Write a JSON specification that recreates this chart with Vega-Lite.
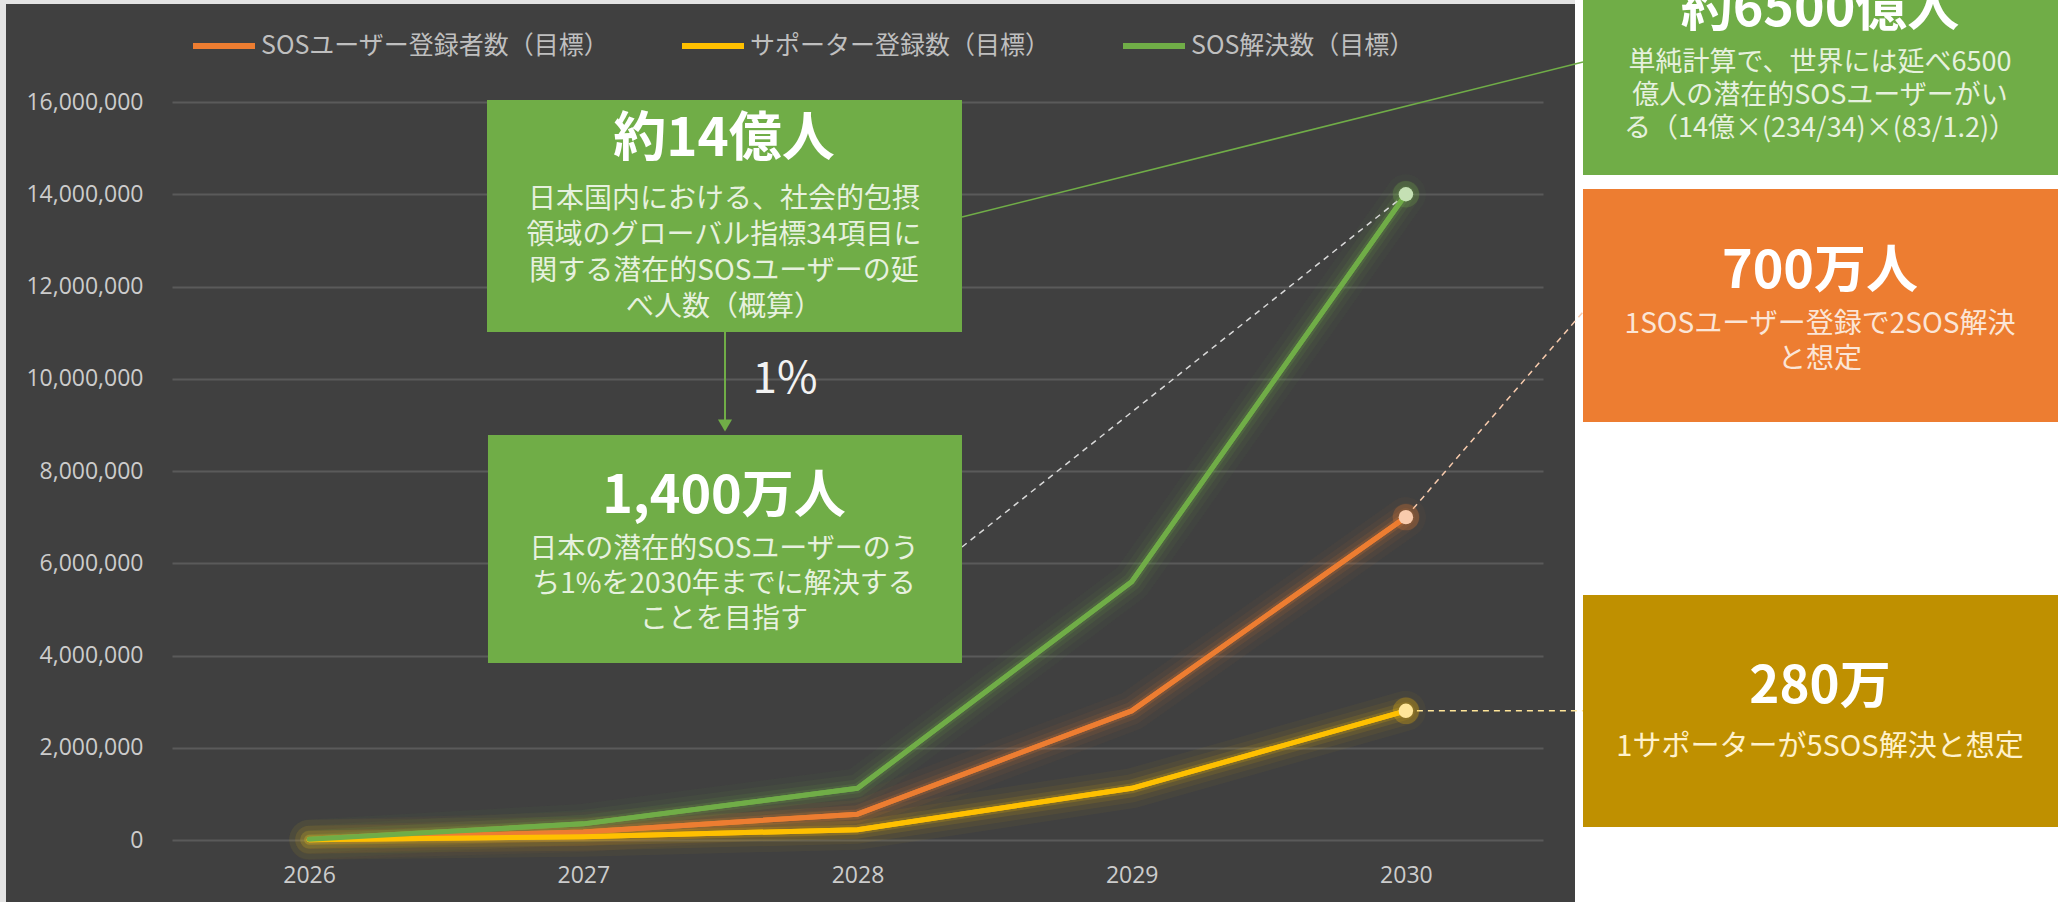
{
  "$schema": "https://vega.github.io/schema/vega-lite/v6.json",
  "width": 1371,
  "height": 738,
  "autosize": {"type": "none"},
  "padding": {"left": 172, "top": 102, "right": 522, "bottom": 62},
  "background": "#404040",
  "config": {
    "view": {"stroke": null},
    "font": "Noto Sans CJK JP",
    "axis": {"titleOpacity": 0},
    "legend": {
      "orient": "none",
      "legendX": 18,
      "legendY": -90,
      "direction": "horizontal",
      "symbolType": "stroke",
      "symbolSize": 3844,
      "symbolStrokeWidth": 6,
      "symbolOpacity": 1,
      "labelFont": "Noto Sans CJK JP",
      "labelFontSize": 25,
      "labelColor": "#bfbfbf",
      "labelLimit": 1000,
      "labelOffset": 3,
      "columnPadding": 60
    }
  },
  "datasets": {
    "series": [
      {"year": 2026, "series": "SOSユーザー登録者数（目標）", "value": 7000},
      {"year": 2027, "series": "SOSユーザー登録者数（目標）", "value": 175000},
      {"year": 2028, "series": "SOSユーザー登録者数（目標）", "value": 560000},
      {"year": 2029, "series": "SOSユーザー登録者数（目標）", "value": 2800000},
      {"year": 2030, "series": "SOSユーザー登録者数（目標）", "value": 7000000},
      {"year": 2026, "series": "サポーター登録数（目標）", "value": 2800},
      {"year": 2027, "series": "サポーター登録数（目標）", "value": 70000},
      {"year": 2028, "series": "サポーター登録数（目標）", "value": 224000},
      {"year": 2029, "series": "サポーター登録数（目標）", "value": 1120000},
      {"year": 2030, "series": "サポーター登録数（目標）", "value": 2800000},
      {"year": 2026, "series": "SOS解決数（目標）", "value": 14000},
      {"year": 2027, "series": "SOS解決数（目標）", "value": 350000},
      {"year": 2028, "series": "SOS解決数（目標）", "value": 1120000},
      {"year": 2029, "series": "SOS解決数（目標）", "value": 5600000},
      {"year": 2030, "series": "SOS解決数（目標）", "value": 14000000}
    ]
  },
  "layer": [
    {
      "data": {"name": "series"},
      "mark": {"type": "line", "strokeWidth": 5, "strokeJoin": "round", "strokeCap": "round"},
      "encoding": {
        "x": {
          "field": "year", "type": "quantitative",
          "scale": {"domain": [2025.5, 2030.5], "nice": false, "zero": false},
          "axis": {"values": [2026, 2027, 2028, 2029, 2030], "labelExpr": "format(datum.value, 'd')", "grid": false, "domain": false, "ticks": false,
                   "labelPadding": 24, "labelFontSize": 23, "labelColor": "#cccccc", "labelFont": "Open Sans",
                   "labelFlush": false, "labelOverlap": false, "title": null}
        },
        "y": {
          "field": "value", "type": "quantitative",
          "scale": {"domain": [0, 16000000], "nice": false, "zero": false},
          "axis": {"values": [0, 2000000, 4000000, 6000000, 8000000, 10000000, 12000000, 14000000, 16000000],
                   "labelExpr": "format(datum.value, ',')", "grid": true, "gridColor": "#5a5a5a", "gridWidth": 2, "domain": false, "ticks": false,
                   "labelPadding": 29, "labelFontSize": 23, "labelColor": "#cccccc", "labelFont": "Open Sans",
                   "labelFlush": false, "labelOverlap": false, "title": null}
        },
        "color": {
          "field": "series", "type": "nominal",
          "scale": {"domain": ["SOSユーザー登録者数（目標）", "サポーター登録数（目標）", "SOS解決数（目標）"],
                    "range": ["#ed7d31", "#ffc000", "#70ad47"]},
          "legend": {"title": null}
        }
      }
    },
    {
      "data": {"values": [{}]},
      "mark": {"type": "rect", "color": "#ffffff"},
      "encoding": {
        "x": {"datum": 2030.6167, "type": "quantitative"},
        "x2": {"datum": 2032.5},
        "y": {"datum": 18500000, "type": "quantitative"},
        "y2": {"datum": -1600000}
      }
    },
    {
      "data": {"values": [{}]},
      "mark": {"type": "rect", "color": "#e4e4e4"},
      "encoding": {
        "x": {"datum": 2024.85, "type": "quantitative"},
        "x2": {"datum": 2024.8946},
        "y": {"datum": 18500000, "type": "quantitative"},
        "y2": {"datum": -1600000}
      }
    },
    {
      "data": {"values": [{}]},
      "mark": {"type": "rect", "color": "#e4e4e4"},
      "encoding": {
        "x": {"datum": 2024.85, "type": "quantitative"},
        "x2": {"datum": 2030.6167},
        "y": {"datum": 18500000, "type": "quantitative"},
        "y2": {"datum": 18124660}
      }
    },
    {
      "data": {"name": "series"},
      "mark": {"type": "line", "strokeWidth": 40, "opacity": 0.04, "strokeJoin": "round", "strokeCap": "round"},
      "encoding": {
        "x": {"field": "year", "type": "quantitative"},
        "y": {"field": "value", "type": "quantitative"},
        "color": {"field": "series", "type": "nominal", "legend": null}
      }
    },
    {
      "data": {"name": "series"},
      "mark": {"type": "line", "strokeWidth": 28, "opacity": 0.06, "strokeJoin": "round", "strokeCap": "round"},
      "encoding": {
        "x": {"field": "year", "type": "quantitative"},
        "y": {"field": "value", "type": "quantitative"},
        "color": {"field": "series", "type": "nominal", "legend": null}
      }
    },
    {
      "data": {"name": "series"},
      "mark": {"type": "line", "strokeWidth": 18, "opacity": 0.1, "strokeJoin": "round", "strokeCap": "round"},
      "encoding": {
        "x": {"field": "year", "type": "quantitative"},
        "y": {"field": "value", "type": "quantitative"},
        "color": {"field": "series", "type": "nominal", "legend": null}
      }
    },
    {
      "data": {"name": "series"},
      "mark": {"type": "line", "strokeWidth": 10, "opacity": 0.18, "strokeJoin": "round", "strokeCap": "round"},
      "encoding": {
        "x": {"field": "year", "type": "quantitative"},
        "y": {"field": "value", "type": "quantitative"},
        "color": {"field": "series", "type": "nominal", "legend": null}
      }
    },
    {
      "data": {"name": "series"},
      "mark": {"type": "line", "strokeWidth": 5, "strokeJoin": "round", "strokeCap": "round"},
      "encoding": {
        "x": {"field": "year", "type": "quantitative"},
        "y": {"field": "value", "type": "quantitative"},
        "color": {"field": "series", "type": "nominal", "legend": null}
      }
    },
    {
      "data": {"values": [{}]},
      "mark": {"type": "rule", "color": "#70ad47", "strokeWidth": 1.5},
      "encoding": {
        "x": {"datum": 2028.3811, "type": "quantitative"},
        "y": {"datum": 13506780, "type": "quantitative"},
        "x2": {"datum": 2030.6459},
        "y2": {"datum": 16867210}
      }
    },
    {
      "data": {"values": [{}]},
      "mark": {"type": "rule", "color": "#d9d9d9", "strokeWidth": 1.5, "strokeDash": [6, 5]},
      "encoding": {
        "x": {"datum": 2028.3811, "type": "quantitative"},
        "y": {"datum": 6352300, "type": "quantitative"},
        "x2": {"datum": 2030},
        "y2": {"datum": 14000000}
      }
    },
    {
      "data": {"values": [{}]},
      "mark": {"type": "rule", "color": "#f8cbad", "strokeWidth": 1.5, "strokeDash": [6, 5]},
      "encoding": {
        "x": {"datum": 2030, "type": "quantitative"},
        "y": {"datum": 7000000, "type": "quantitative"},
        "x2": {"datum": 2030.6459},
        "y2": {"datum": 11447160}
      }
    },
    {
      "data": {"values": [{}]},
      "mark": {"type": "rule", "color": "#ffe699", "strokeWidth": 1.5, "strokeDash": [6, 5]},
      "encoding": {
        "x": {"datum": 2030, "type": "quantitative"},
        "y": {"datum": 2800000, "type": "quantitative"},
        "x2": {"datum": 2030.6459},
        "y2": {"datum": 2800000}
      }
    },
    {
      "data": {"values": [{}]},
      "mark": {"type": "rule", "color": "#70ad47", "strokeWidth": 2},
      "encoding": {
        "x": {"datum": 2027.5168, "type": "quantitative"},
        "y": {"datum": 11013550, "type": "quantitative"},
        "y2": {"datum": 9105690}
      }
    },
    {
      "data": {"values": [{}]},
      "mark": {"type": "point", "shape": "triangle-down", "filled": true, "color": "#70ad47", "size": 200, "opacity": 1},
      "encoding": {
        "x": {"datum": 2027.5168, "type": "quantitative"},
        "y": {"datum": 8986450, "type": "quantitative"}
      }
    },
    {
      "data": {"values": [{}]},
      "mark": {"type": "rect", "color": "#70ad47"},
      "encoding": {
        "x": {"datum": 2026.6488, "type": "quantitative"},
        "x2": {"datum": 2028.3811},
        "y": {"datum": 16043360, "type": "quantitative"},
        "y2": {"datum": 11013550}
      }
    },
    {
      "data": {"values": [{}]},
      "mark": {"type": "rect", "color": "#70ad47"},
      "encoding": {
        "x": {"datum": 2026.6524, "type": "quantitative"},
        "x2": {"datum": 2028.3811},
        "y": {"datum": 8780490, "type": "quantitative"},
        "y2": {"datum": 3837400}
      }
    },
    {
      "data": {"values": [{}]},
      "mark": {"type": "rect", "color": "#70ad47"},
      "encoding": {
        "x": {"datum": 2030.6459, "type": "quantitative"},
        "x2": {"datum": 2032.3782},
        "y": {"datum": 18500000, "type": "quantitative"},
        "y2": {"datum": 14417350}
      }
    },
    {
      "data": {"values": [{}]},
      "mark": {"type": "rect", "color": "#ed7d31"},
      "encoding": {
        "x": {"datum": 2030.6459, "type": "quantitative"},
        "x2": {"datum": 2032.3782},
        "y": {"datum": 14113820, "type": "quantitative"},
        "y2": {"datum": 9062330}
      }
    },
    {
      "data": {"values": [{}]},
      "mark": {"type": "rect", "color": "#bf9000"},
      "encoding": {
        "x": {"datum": 2030.6459, "type": "quantitative"},
        "x2": {"datum": 2032.3782},
        "y": {"datum": 5311650, "type": "quantitative"},
        "y2": {"datum": 281840}
      }
    },
    {
      "data": {"values": [{}]},
      "mark": {"type": "text", "text": "約14億人", "fontSize": 53, "fontWeight": "bold", "color": "#ffffff", "align": "center", "baseline": "middle"},
      "encoding": {
        "x": {"datum": 2027.5131, "type": "quantitative"},
        "y": {"datum": 15176150, "type": "quantitative"}
      }
    },
    {
      "data": {"values": [{}]},
      "mark": {"type": "text", "text": ["日本国内における、社会的包摂", "領域のグローバル指標34項目に", "関する潜在的SOSユーザーの延", "べ人数（概算）"],
               "fontSize": 28, "lineHeight": 36, "color": "#e6f1de", "align": "center", "baseline": "middle"},
      "encoding": {
        "x": {"datum": 2027.5131, "type": "quantitative"},
        "y": {"datum": 13875340, "type": "quantitative"}
      }
    },
    {
      "data": {"values": [{}]},
      "mark": {"type": "text", "text": "1%", "fontSize": 44, "color": "#f2f2f2", "align": "center", "baseline": "middle"},
      "encoding": {
        "x": {"datum": 2027.7356, "type": "quantitative"},
        "y": {"datum": 9972900, "type": "quantitative"}
      }
    },
    {
      "data": {"values": [{}]},
      "mark": {"type": "text", "text": "1,400万人", "fontSize": 52, "fontWeight": "bold", "color": "#ffffff", "align": "center", "baseline": "middle"},
      "encoding": {
        "x": {"datum": 2027.5131, "type": "quantitative"},
        "y": {"datum": 7436315, "type": "quantitative"}
      }
    },
    {
      "data": {"values": [{}]},
      "mark": {"type": "text", "text": ["日本の潜在的SOSユーザーのう", "ち1%を2030年までに解決する", "ことを目指す"],
               "fontSize": 28, "lineHeight": 35, "color": "#e6f1de", "align": "center", "baseline": "middle"},
      "encoding": {
        "x": {"datum": 2027.5131, "type": "quantitative"},
        "y": {"datum": 6287260, "type": "quantitative"}
      }
    },
    {
      "data": {"values": [{}]},
      "mark": {"type": "text", "text": "約6500億人", "fontSize": 52, "fontWeight": "bold", "color": "#ffffff", "align": "center", "baseline": "middle"},
      "encoding": {
        "x": {"datum": 2031.5102, "type": "quantitative"},
        "y": {"datum": 17994580, "type": "quantitative"}
      }
    },
    {
      "data": {"values": [{}]},
      "mark": {"type": "text", "text": ["単純計算で、世界には延べ6500", "億人の潜在的SOSユーザーがい", "る（14億×(234/34)×(83/1.2)）"],
               "fontSize": 27, "lineHeight": 33, "color": "#e6f1de", "align": "center", "baseline": "middle"},
      "encoding": {
        "x": {"datum": 2031.5102, "type": "quantitative"},
        "y": {"datum": 16845530, "type": "quantitative"}
      }
    },
    {
      "data": {"values": [{}]},
      "mark": {"type": "text", "text": "700万人", "fontSize": 52, "fontWeight": "bold", "color": "#ffffff", "align": "center", "baseline": "middle"},
      "encoding": {
        "x": {"datum": 2031.5102, "type": "quantitative"},
        "y": {"datum": 12314365, "type": "quantitative"}
      }
    },
    {
      "data": {"values": [{}]},
      "mark": {"type": "text", "text": ["1SOSユーザー登録で2SOS解決", "と想定"],
               "fontSize": 28, "lineHeight": 35, "color": "#fbe5d6", "align": "center", "baseline": "middle"},
      "encoding": {
        "x": {"datum": 2031.5102, "type": "quantitative"},
        "y": {"datum": 11165310, "type": "quantitative"}
      }
    },
    {
      "data": {"values": [{}]},
      "mark": {"type": "text", "text": "280万", "fontSize": 51, "fontWeight": "bold", "color": "#ffffff", "align": "center", "baseline": "middle"},
      "encoding": {
        "x": {"datum": 2031.5102, "type": "quantitative"},
        "y": {"datum": 3295390, "type": "quantitative"}
      }
    },
    {
      "data": {"values": [{}]},
      "mark": {"type": "text", "text": "1サポーターが5SOS解決と想定",
               "fontSize": 29, "color": "#fff2cc", "align": "center", "baseline": "middle"},
      "encoding": {
        "x": {"datum": 2031.5102, "type": "quantitative"},
        "y": {"datum": 2016260, "type": "quantitative"}
      }
    },
    {
      "data": {"name": "series"},
      "transform": [{"filter": "datum.year == 2030"}],
      "mark": {"type": "point", "filled": true, "size": 700, "opacity": 0.25, "strokeWidth": 0},
      "encoding": {
        "x": {"field": "year", "type": "quantitative"},
        "y": {"field": "value", "type": "quantitative"},
        "color": {"field": "series", "type": "nominal", "legend": null}
      }
    },
    {
      "data": {"name": "series"},
      "transform": [{"filter": "datum.year == 2030"}],
      "mark": {"type": "point", "filled": true, "size": 210, "opacity": 1, "strokeWidth": 0},
      "encoding": {
        "x": {"field": "year", "type": "quantitative"},
        "y": {"field": "value", "type": "quantitative"},
        "fill": {"field": "series", "type": "nominal",
                 "scale": {"domain": ["SOSユーザー登録者数（目標）", "サポーター登録数（目標）", "SOS解決数（目標）"],
                           "range": ["#f8cbad", "#ffe699", "#c5e0b4"]},
                 "legend": null}
      }
    }
  ]
}
